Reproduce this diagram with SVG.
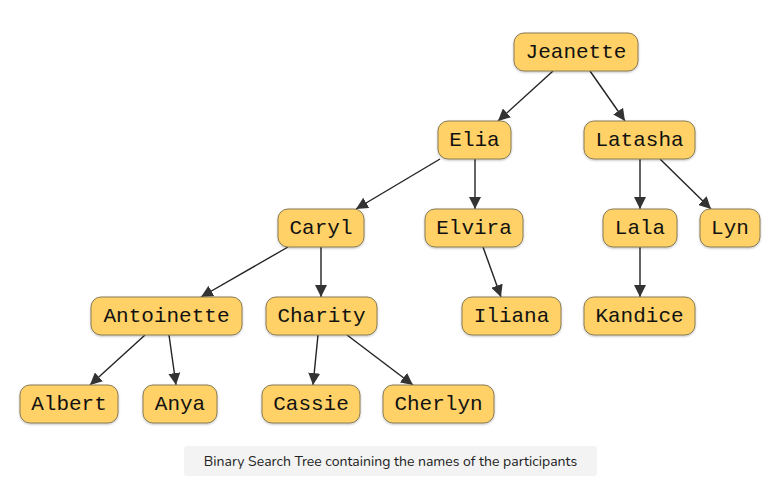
<svg xmlns="http://www.w3.org/2000/svg" width="766" height="481" viewBox="0 0 766 481">
<defs>
<marker id="arr" viewBox="0 0 10 10" refX="10" refY="5" markerWidth="12" markerHeight="12" markerUnits="userSpaceOnUse" orient="auto">
<path d="M0,0 L10,5 L0,10 z" fill="#333"/>
</marker>
<filter id="sh" x="-10%" y="-10%" width="120%" height="130%">
<feDropShadow dx="0" dy="1" stdDeviation="0.8" flood-color="#000" flood-opacity="0.25"/>
</filter>
</defs>
<style>
.n rect{fill:#ffd166;stroke:#8a7a55;stroke-width:1;filter:url(#sh)}
.n text{font-family:"Liberation Mono","DejaVu Sans Mono",monospace;font-size:21px;fill:#111;text-anchor:middle;dominant-baseline:central}
.e line{stroke:#222;stroke-width:1.4;marker-end:url(#arr)}
.cap{font-family:"Nunito","Open Sans","Noto Sans",sans-serif;font-size:14px;fill:#222;text-anchor:middle}
</style>
<rect width="766" height="481" fill="#fff"/>
<g id="edges" class="e">
<line x1="553" y1="71" x2="498" y2="121"/>
<line x1="590" y1="71" x2="625" y2="121"/>
<line x1="440" y1="159" x2="356" y2="209"/>
<line x1="475" y1="159" x2="475" y2="209"/>
<line x1="640" y1="159" x2="640" y2="209"/>
<line x1="660" y1="159" x2="711" y2="209"/>
<line x1="288" y1="247" x2="201" y2="297"/>
<line x1="321" y1="247" x2="321" y2="297"/>
<line x1="483" y1="247" x2="501" y2="297"/>
<line x1="640" y1="247" x2="640" y2="297"/>
<line x1="145" y1="335" x2="90" y2="385"/>
<line x1="169" y1="335" x2="176" y2="385"/>
<line x1="318" y1="335" x2="313" y2="385"/>
<line x1="347" y1="335" x2="413" y2="385"/>
</g>
<g id="Jeanette" class="n"><rect x="514" y="33" width="124" height="38" rx="10"/><text x="576" y="52">Jeanette</text></g>
<g id="Elia" class="n"><rect x="438" y="121" width="73" height="38" rx="10"/><text x="474.5" y="140">Elia</text></g>
<g id="Latasha" class="n"><rect x="584" y="121" width="111" height="38" rx="10"/><text x="639.5" y="140">Latasha</text></g>
<g id="Caryl" class="n"><rect x="278" y="209" width="86" height="38" rx="10"/><text x="321" y="228">Caryl</text></g>
<g id="Elvira" class="n"><rect x="425" y="209" width="98" height="38" rx="10"/><text x="474" y="228">Elvira</text></g>
<g id="Lala" class="n"><rect x="603" y="209" width="74" height="38" rx="10"/><text x="640" y="228">Lala</text></g>
<g id="Lyn" class="n"><rect x="700" y="209" width="60" height="38" rx="10"/><text x="730" y="228">Lyn</text></g>
<g id="Antoinette" class="n"><rect x="91" y="297" width="151" height="38" rx="10"/><text x="166.5" y="316">Antoinette</text></g>
<g id="Charity" class="n"><rect x="266" y="297" width="111" height="38" rx="10"/><text x="321.5" y="316">Charity</text></g>
<g id="Iliana" class="n"><rect x="462" y="297" width="99" height="38" rx="10"/><text x="511.5" y="316">Iliana</text></g>
<g id="Kandice" class="n"><rect x="584" y="297" width="111" height="38" rx="10"/><text x="639.5" y="316">Kandice</text></g>
<g id="Albert" class="n"><rect x="20" y="385" width="98" height="38" rx="10"/><text x="69" y="404">Albert</text></g>
<g id="Anya" class="n"><rect x="143" y="385" width="74" height="38" rx="10"/><text x="180" y="404">Anya</text></g>
<g id="Cassie" class="n"><rect x="262" y="385" width="98" height="38" rx="10"/><text x="311" y="404">Cassie</text></g>
<g id="Cherlyn" class="n"><rect x="383" y="385" width="111" height="38" rx="10"/><text x="438.5" y="404">Cherlyn</text></g>
<g id="caption">
<rect x="184" y="446" width="413" height="30" rx="3" fill="#f3f3f3"/>
<text class="cap" x="390.5" y="466">Binary Search Tree containing the names of the participants</text>
</g>
</svg>
